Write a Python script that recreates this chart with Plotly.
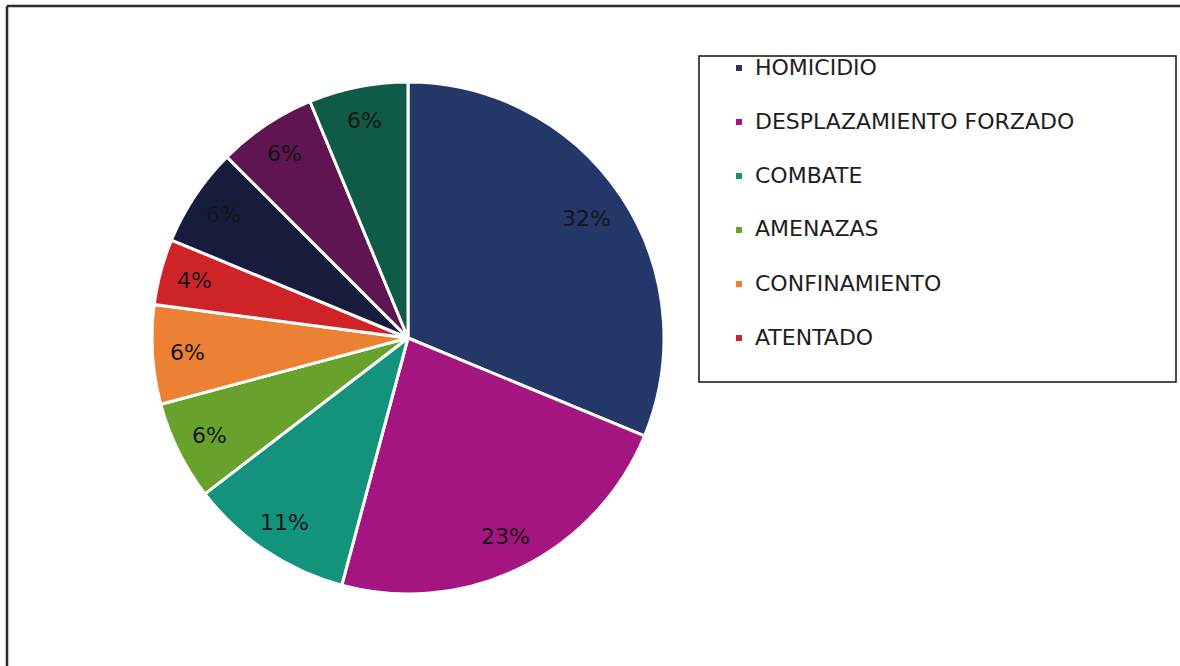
import math
import plotly.graph_objects as go

# ---- data ----
legend_labels = ["HOMICIDIO", "DESPLAZAMIENTO FORZADO", "COMBATE",
                 "AMENAZAS", "CONFINAMIENTO", "ATENTADO"]
values = [15, 11, 5, 3, 3, 2, 3, 3, 3]
pct_labels = ["32%", "23%", "11%", "6%", "6%", "4%", "6%", "6%", "6%"]
colors = ["#233769", "#a5157f", "#14937c", "#68a22d", "#ec8033",
          "#cf2328", "#171c3c", "#5e1552", "#0f5b47"]

W, H = 1180, 666


def px(x):
    return x / W


def py(y):
    return 1 - y / H


# pie geometry (page pixels)
CX, CY, R = 408, 338, 256

fig = go.Figure()
fig.add_trace(go.Pie(
    values=values,
    textinfo="none",
    marker=dict(colors=colors, line=dict(color="white", width=3)),
    sort=False,
    direction="clockwise",
    rotation=0,
    hoverinfo="skip",
    showlegend=False,
    domain=dict(x=[px(CX - R), px(CX + R)], y=[py(CY + R), py(CY - R)]),
))

shapes = []
annotations = []

# percentage labels placed from the data (mid-angle of each slice)
total = sum(values)
cum = 0
for v, t in zip(values, pct_labels):
    mid = (cum + v / 2) / total * 2 * math.pi
    cum += v
    rr = (0.84 if v / total > 0.3 else 0.865) * R
    lx = CX + rr * math.sin(mid)
    ly = CY - rr * math.cos(mid)
    annotations.append(dict(xref="paper", yref="paper", x=px(lx), y=py(ly),
                            xanchor="center", yanchor="middle", showarrow=False,
                            text=t,
                            font=dict(family="DejaVu Sans", size=22, color="#151515")))

# outer frame (only left/top edges visible)
frame_line = dict(color="#2a2a2a", width=2.5)
shapes.append(dict(type="line", xref="paper", yref="paper",
                   x0=px(7), x1=px(7), y0=0, y1=py(6), line=frame_line, layer="above"))
shapes.append(dict(type="line", xref="paper", yref="paper",
                   x0=px(7), x1=1, y0=py(6), y1=py(6), line=frame_line, layer="above"))
# legend box
shapes.append(dict(type="rect", xref="paper", yref="paper",
                   x0=px(699), x1=px(1176), y0=py(382), y1=py(56),
                   line=dict(color="#111111", width=1.5), layer="above"))

y0_leg, dy_leg = 67, 54
for i, lab in enumerate(legend_labels):
    yc = y0_leg + i * dy_leg
    shapes.append(dict(type="rect", xref="paper", yref="paper",
                       x0=px(736), x1=px(742), y0=py(yc + 4), y1=py(yc - 2),
                       fillcolor=colors[i], line=dict(width=0)))
    annotations.append(dict(xref="paper", yref="paper", x=px(753), y=py(yc),
                            xanchor="left", yanchor="middle", showarrow=False,
                            text=lab,
                            font=dict(family="DejaVu Sans", size=22, color="#1e1e1e")))

fig.update_layout(
    width=W, height=H,
    margin=dict(l=0, r=0, t=0, b=0),
    paper_bgcolor="white",
    plot_bgcolor="white",
    shapes=shapes,
    annotations=annotations,
)

fig.write_html(
    "out.html",
    config={"displayModeBar": False},
    post_script="document.body.style.margin='0';document.body.style.overflow='hidden';",
)
